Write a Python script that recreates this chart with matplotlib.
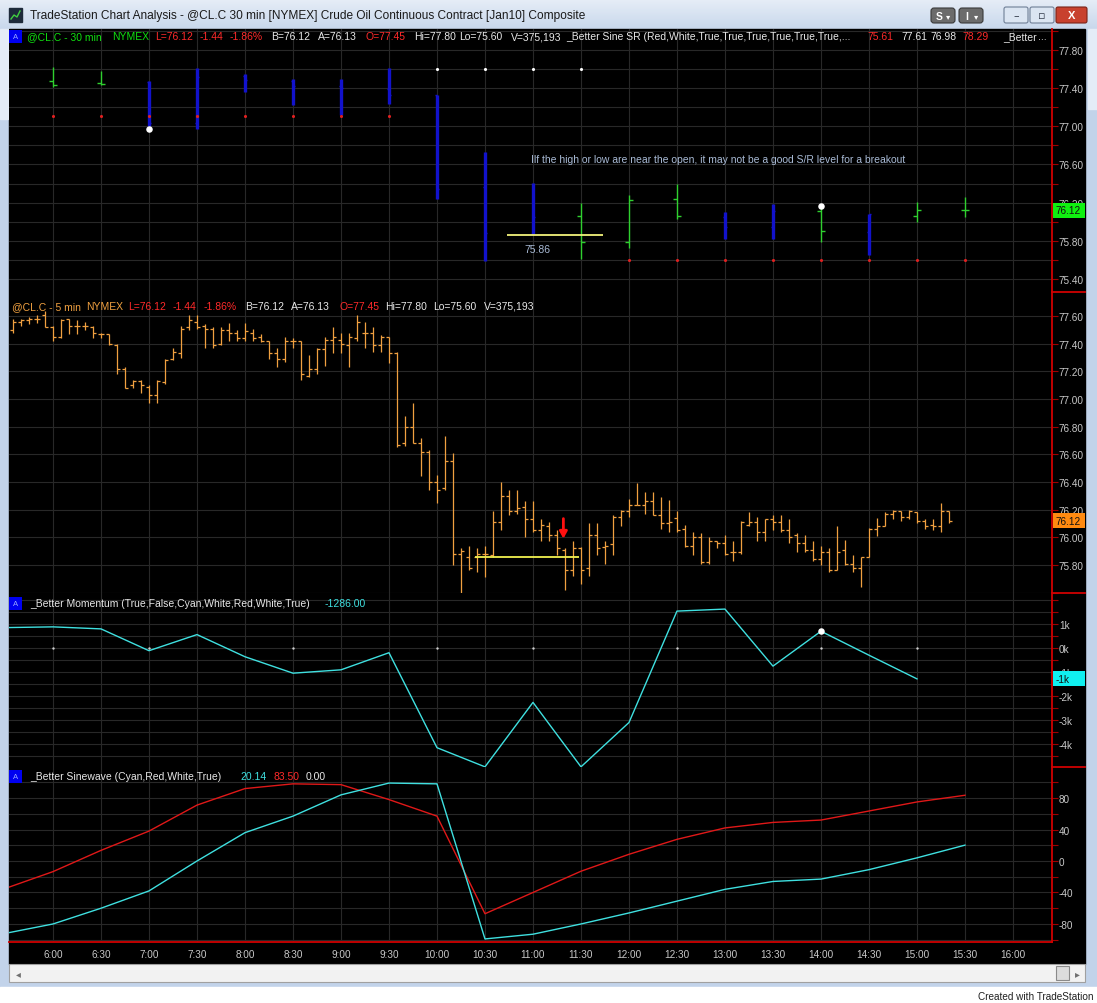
import matplotlib
matplotlib.use("Agg")
import matplotlib.pyplot as plt
from matplotlib import font_manager
from matplotlib.patches import Rectangle, FancyBboxPatch
from matplotlib.lines import Line2D
from matplotlib.colors import LinearSegmentedColormap
import numpy as np
import pandas as pd

W, H = 1097, 1004

# ---------------- data ----------------
# 30 min bars (top pane)
times_30 = ["6:00", "6:30", "7:00", "7:30", "8:00", "8:30", "9:00", "9:30", "10:00", "10:30",
            "11:00", "11:30", "12:00", "12:30", "13:00", "13:30", "14:00", "14:30", "15:00", "15:30"]
open_30 = [77.47, 77.45, 77.46, 77.03, 77.53, 77.48, 77.42, 77.39, 77.33, 76.36,
           75.87, 76.06, 75.79, 76.24, 76.05, 75.94, 76.11, 75.89, 76.06, 76.12]
high_30 = [77.62, 77.58, 77.47, 77.61, 77.55, 77.50, 77.50, 77.61, 77.33, 76.73,
           76.41, 76.20, 76.28, 76.40, 76.10, 76.19, 76.17, 76.08, 76.21, 76.26]
low_30 = [77.41, 77.43, 77.00, 76.97, 77.36, 77.22, 77.12, 77.23, 76.24, 75.59,
          75.87, 75.61, 75.72, 76.03, 75.82, 75.82, 75.79, 75.65, 76.00, 76.05]
close_30 = [77.43, 77.44, 77.03, 77.52, 77.49, 77.42, 77.40, 77.33, 76.34, 75.88,
            76.05, 75.79, 76.23, 76.06, 75.94, 76.11, 75.90, 76.08, 76.12, 76.12]
state_30 = ["up", "up", "dn", "dn", "dn", "dn", "dn", "dn", "dn", "dn",
            "dn", "up", "up", "up", "dn", "dn", "up", "dn", "up", "up"]

# Better Sine SR markers
sr_red_times = ["6:00", "6:30", "7:00", "7:30", "8:00", "8:30", "9:00", "9:30",
                "12:00", "12:30", "13:00", "13:30", "14:00", "14:30", "15:00", "15:30"]
sr_red_vals = [77.11, 77.11, 77.11, 77.11, 77.11, 77.11, 77.11, 77.11,
               75.60, 75.60, 75.60, 75.60, 75.60, 75.60, 75.60, 75.60]
sr_white_times = ["10:00", "10:30", "11:00", "11:30"]
sr_white_vals = [77.60, 77.60, 77.60, 77.60]
pivot_times = ["7:00", "14:00"]
pivot_vals = [76.97, 76.16]

# 5 min bars (second pane), first bar closes 5:35
start_5 = "2009-12-04 05:35"
open_5 = [77.50, 77.56, 77.57, 77.58, 77.61, 77.52, 77.45, 77.58, 77.53, 77.53, 77.52, 77.47,
          77.47, 77.39, 77.22, 77.10, 77.13, 77.09, 77.03, 77.12, 77.29, 77.33, 77.52, 77.56,
          77.53, 77.51, 77.40, 77.50, 77.48, 77.44, 77.48, 77.45, 77.42, 77.33, 77.29, 77.42,
          77.42, 77.17, 77.22, 77.36, 77.43, 77.43, 77.39, 77.44, 77.48, 77.48, 77.39, 77.45,
          77.33, 76.68, 76.80, 76.68, 76.62, 76.40, 76.36, 76.55, 75.88, 75.86, 75.86, 75.88,
          75.87, 76.11, 76.30, 76.19, 76.22, 76.13, 76.05, 76.08, 76.02, 75.91, 75.76, 75.92,
          75.78, 76.02, 75.93, 75.95, 76.15, 76.19, 76.23, 76.23, 76.26, 76.16, 76.10, 76.14,
          76.06, 75.94, 76.00, 75.82, 75.97, 75.96, 75.89, 75.89, 76.09, 76.11, 76.04, 76.13,
          76.11, 76.05, 76.02, 75.96, 75.91, 75.84, 75.89, 75.76, 75.91, 75.81, 75.78, 75.86,
          76.06, 76.08, 76.17, 76.19, 76.15, 76.18, 76.12, 76.09, 76.08, 76.19]
high_5 = [77.58, 77.58, 77.59, 77.61, 77.64, 77.53, 77.58, 77.58, 77.57, 77.56, 77.53, 77.48,
          77.47, 77.40, 77.23, 77.14, 77.14, 77.10, 77.14, 77.29, 77.37, 77.53, 77.61, 77.61,
          77.54, 77.52, 77.52, 77.55, 77.50, 77.55, 77.51, 77.47, 77.42, 77.37, 77.45, 77.44,
          77.42, 77.32, 77.37, 77.45, 77.52, 77.48, 77.48, 77.61, 77.56, 77.52, 77.46, 77.45,
          77.34, 76.88, 76.97, 76.72, 76.63, 76.45, 76.73, 76.61, 75.92, 75.94, 75.92, 75.94,
          76.19, 76.40, 76.34, 76.34, 76.26, 76.26, 76.13, 76.11, 76.05, 75.92, 75.97, 75.93,
          76.10, 76.10, 75.97, 76.16, 76.20, 76.28, 76.39, 76.33, 76.33, 76.29, 76.27, 76.19,
          76.09, 76.04, 76.03, 76.00, 75.97, 76.02, 75.97, 76.12, 76.18, 76.15, 76.13, 76.16,
          76.16, 76.13, 76.03, 76.02, 75.97, 75.94, 75.92, 76.08, 75.98, 75.87, 75.86, 76.07,
          76.14, 76.18, 76.20, 76.19, 76.20, 76.18, 76.13, 76.13, 76.25, 76.19]
low_5 = [77.48, 77.53, 77.54, 77.55, 77.52, 77.42, 77.44, 77.47, 77.47, 77.50, 77.44, 77.44,
         77.39, 77.18, 77.08, 77.08, 77.04, 76.97, 76.97, 77.11, 77.28, 77.30, 77.50, 77.51,
         77.37, 77.37, 77.39, 77.42, 77.42, 77.42, 77.42, 77.41, 77.29, 77.23, 77.27, 77.37,
         77.14, 77.16, 77.18, 77.24, 77.33, 77.33, 77.23, 77.42, 77.37, 77.34, 77.34, 77.26,
         76.65, 76.66, 76.68, 76.44, 76.34, 76.25, 76.34, 75.80, 75.59, 75.76, 75.75, 75.71,
         75.86, 76.05, 76.16, 76.17, 76.00, 76.04, 75.97, 75.97, 75.87, 75.62, 75.72, 75.66,
         75.72, 75.87, 75.81, 75.87, 76.08, 76.15, 76.23, 76.17, 76.16, 76.06, 76.04, 76.04,
         75.93, 75.87, 75.81, 75.81, 75.92, 75.87, 75.83, 75.88, 76.08, 75.97, 75.97, 76.05,
         76.04, 75.96, 75.89, 75.89, 75.83, 75.80, 75.75, 75.76, 75.80, 75.75, 75.64, 75.86,
         76.01, 76.08, 76.13, 76.12, 76.13, 76.10, 76.06, 76.05, 76.04, 76.10]
close_5 = [77.56, 77.57, 77.58, 77.58, 77.52, 77.45, 77.57, 77.53, 77.53, 77.53, 77.48, 77.47,
           77.40, 77.22, 77.08, 77.13, 77.10, 77.03, 77.13, 77.28, 77.34, 77.51, 77.57, 77.52,
           77.51, 77.39, 77.50, 77.48, 77.44, 77.49, 77.44, 77.42, 77.33, 77.29, 77.42, 77.42,
           77.18, 77.22, 77.36, 77.43, 77.45, 77.40, 77.45, 77.56, 77.48, 77.39, 77.45, 77.33,
           76.67, 76.80, 76.68, 76.62, 76.40, 76.34, 76.55, 75.88, 75.90, 75.78, 75.88, 75.88,
           76.11, 76.30, 76.19, 76.21, 76.13, 76.05, 76.09, 76.02, 75.92, 75.76, 75.92, 75.76,
           76.02, 75.92, 75.94, 76.15, 76.19, 76.23, 76.23, 76.26, 76.16, 76.10, 76.11, 76.05,
           75.94, 76.00, 75.82, 75.97, 75.96, 75.88, 75.89, 76.11, 76.11, 76.04, 76.13, 76.11,
           76.05, 76.00, 75.96, 75.91, 75.84, 75.89, 75.76, 75.89, 75.81, 75.78, 75.86, 76.06,
           76.08, 76.17, 76.19, 76.15, 76.19, 76.12, 76.08, 76.08, 76.19, 76.12]

# Better Momentum (30 min)
mom_times = ["5:30", "6:00", "6:30", "7:00", "7:30", "8:00", "8:30", "9:00", "9:30", "10:00",
             "10:30", "11:00", "11:30", "12:00", "12:30", "13:00", "13:30", "14:00", "14:30", "15:00"]
mom_vals = [850, 881, 797, -112, 559, -364, -1049, -909, -196, -4154,
            -4951, -2266, -4951, -3105, 1538, 1622, -755, 699, -300, -1286]
mom_zero_times = ["6:00", "7:00", "8:30", "10:00", "11:00", "12:30", "14:00", "15:00"]
mom_pivot_time = "14:00"
mom_pivot_val = 699

# Better Sinewave (30 min)
sine_times = ["5:30", "6:00", "6:30", "7:00", "7:30", "8:00", "8:30", "9:00", "9:30", "10:00", "10:30",
              "11:00", "11:30", "12:00", "12:30", "13:00", "13:30", "14:00", "14:30", "15:00", "15:30"]
sine_vals = [-92, -80, -60, -38, 0, 36, 57, 84, 99, 98, -99,
             -93, -80, -66, -51, -36, -26, -23, -11, 4, 20.14]
lead_vals = [-35, -13.5, 13.5, 38, 71, 92, 98, 97, 78, 57, -67,
             -40, -13, 8.5, 27.5, 42, 49, 52, 63.5, 75, 83.5]

# axis ticks
time_labels = ["6:00", "6:30", "7:00", "7:30", "8:00", "8:30", "9:00", "9:30", "10:00", "10:30", "11:00",
               "11:30", "12:00", "12:30", "13:00", "13:30", "14:00", "14:30", "15:00", "15:30", "16:00"]
p1_ticks = [75.4, 75.6, 75.8, 76.0, 76.2, 76.4, 76.6, 76.8, 77.0, 77.2, 77.4, 77.6, 77.8, 78.0]
p1_labels = ["75.40", "", "75.80", "", "76.20", "", "76.60", "", "77.00", "", "77.40", "", "77.80", ""]
p2_ticks = [75.6, 75.8, 76.0, 76.2, 76.4, 76.6, 76.8, 77.0, 77.2, 77.4, 77.6]
p2_labels = ["", "75.80", "76.00", "76.20", "76.40", "76.60", "76.80", "77.00", "77.20", "77.40", "77.60"]
p3_ticks = [-4500, -4000, -3500, -3000, -2500, -2000, -1500, -1000, -500, 0, 500, 1000, 1500, 2000]
p3_labels = ["", "-4k", "", "-3k", "", "-2k", "", "-1k", "", "0k", "", "1k", "", ""]
p4_ticks = [-100, -80, -60, -40, -20, 0, 20, 40, 60, 80, 100]
p4_labels = ["", "-80", "", "-40", "", "0", "", "40", "", "80", ""]


def tm(s):
    h, m = s.split(":")
    return int(h) * 60 + int(m)


avail = {f.name for f in font_manager.fontManager.ttflist}
if "Liberation Sans Narrow" in avail:
    UI, FS, HFS = "Liberation Sans Narrow", 8.2, 8.6
else:
    UI, FS, HFS = "Liberation Sans", 7.2, 7.5
plt.rcParams["font.family"] = [UI, "DejaVu Sans"]

GREEN = "#10e010"
RED = "#ff2a2a"
WHITE = "#e8e8e8"
ORANGE = "#f0a040"
CYAN = "#3fe0e0"
LBL = "#c8c8c8"
GRID = "#282828"
AXRED = "#d00000"

fig = plt.figure(figsize=(W / 100, H / 100), dpi=100, facecolor="#c2d3ea")


def px_axes(x0, y0, x1, y1, **kw):
    return fig.add_axes([x0 / W, 1 - y1 / H, (x1 - x0) / W, (y1 - y0) / H], **kw)


# ---------------- window chrome ----------------
bg = px_axes(0, 0, W, H, zorder=-5)
tb_cmap = LinearSegmentedColormap.from_list("tb", ["#e6edf7", "#c9d8ec"])
bg.imshow(np.linspace(0, 1, 30)[:, None], extent=(0, W, 30, 0), cmap=tb_cmap, aspect="auto")
bg.set_xlim(0, W)
bg.set_ylim(H, 0)
bg.axis("off")
bg.add_patch(Rectangle((9, 30), 1076, 935, color="black"))
bg.add_patch(Rectangle((0, 30), 8, 90, color="#e4ecf7"))
bg.add_patch(Rectangle((1088, 30), 9, 80, color="#e4ecf7"))
bg.add_patch(Rectangle((9, 965), 1076, 18, fc="#f2f2f2", ec="#a0a0a0", lw=0.8))
bg.add_patch(Rectangle((1056, 967), 13, 14, fc="#dcdcdc", ec="#8a8a8a", lw=0.8))
bg.text(16, 974, "◂", family="DejaVu Sans", fontsize=7, color="#707070", va="center")
bg.text(1075, 974, "▸", family="DejaVu Sans", fontsize=7, color="#707070", va="center")
bg.add_patch(Rectangle((0, 988), W, 16, color="white"))
bg.text(1094, 997, "Created with TradeStation", fontsize=7.2, color="#202020", ha="right", va="center")

# title bar
bg.add_patch(Rectangle((9, 9), 13, 14, color="#1d2a3a"))
bg.plot([11, 14, 17, 20], [20, 16, 18, 12], color="#40d040", lw=1)
bg.text(30, 16, "TradeStation Chart Analysis - @CL.C 30 min [NYMEX] Crude Oil Continuous Contract [Jan10] Composite",
        fontsize=8.6, color="#1a1a1a", va="center", family=["Liberation Sans", "DejaVu Sans"])
for x0, letter in [(931, "S"), (959, "I")]:
    bg.add_patch(FancyBboxPatch((x0, 9), 24, 15, boxstyle="round,pad=0,rounding_size=3",
                                fc="#6b6b6b", ec="#3a3a3a", lw=0.8))
    bg.text(x0 + 8, 16.5, letter, color="white", fontsize=7.5, ha="center", va="center", weight="bold")
    bg.text(x0 + 17, 17, "▾", color="white", fontsize=6, ha="center", va="center", family="DejaVu Sans")
for x0, sym in [(1004, "–"), (1030, "▫")]:
    bg.add_patch(FancyBboxPatch((x0, 8), 24, 16, boxstyle="round,pad=0,rounding_size=2",
                                fc="#dbe5f2", ec="#6f7f96", lw=0.8))
    bg.text(x0 + 12, 16, sym, color="#303848", fontsize=8, ha="center", va="center", family="DejaVu Sans")
bg.add_patch(FancyBboxPatch((1056, 8), 31, 16, boxstyle="round,pad=0,rounding_size=2",
                            fc="#c8412e", ec="#7a2318", lw=0.8))
bg.text(1071.5, 16, "X", color="white", fontsize=8, ha="center", va="center", weight="bold")

# ---------------- panes ----------------
ax1 = px_axes(9, 30, 1052, 293)
ax2 = px_axes(9, 293, 1052, 594)
ax3 = px_axes(9, 594, 1052, 768)
ax4 = px_axes(9, 768, 1052, 943)

XMIN, XMAX = 332.5, 984.4
time_pos = [tm(t) for t in time_labels]


def style(ax, ylim, ticks, labels):
    ax.set_facecolor("black")
    ax.set_xlim(XMIN, XMAX)
    ax.set_ylim(*ylim)
    for s in ["top", "left", "bottom"]:
        ax.spines[s].set_visible(False)
    ax.spines["right"].set_color(AXRED)
    ax.spines["right"].set_linewidth(1.3)
    ax.yaxis.tick_right()
    ax.set_yticks(ticks)
    ax.set_yticklabels(labels)
    ax.tick_params(axis="y", length=4, width=0.8, color="#a00000", labelcolor=LBL, labelsize=FS, pad=1)
    ax.set_xticks(time_pos)
    ax.set_xticklabels([])
    ax.tick_params(axis="x", length=0)
    ax.grid(True, color=GRID, lw=0.8)
    ax.set_axisbelow(True)


style(ax1, (75.263, 78.02), p1_ticks, p1_labels)
style(ax2, (75.597, 77.774), p2_ticks, p2_labels)
style(ax3, (-4958, 2292), p3_ticks, p3_labels)
style(ax4, (-102.9, 119.4), p4_ticks, p4_labels)
ax4.set_xticklabels(time_labels)
ax4.tick_params(axis="x", labelcolor=LBL, labelsize=FS, pad=5)
ax4.spines["bottom"].set_visible(True)
ax4.spines["bottom"].set_color(AXRED)
ax4.spines["bottom"].set_linewidth(1.3)


def draw_ohlc(ax, x, o, h, l, c, colors, lw, tick, tick_lw):
    x = np.asarray(x, dtype=float)
    ax.vlines(x, l, h, colors=colors, lw=lw)
    ax.hlines(o, x - tick, x, colors=colors, lw=tick_lw)
    ax.hlines(c, x, x + tick, colors=colors, lw=tick_lw)


# pane 1: 30 min bars with SR markers
x30 = [tm(t) for t in times_30]
for want, col, lw, tick in [("up", "#2fd02f", 1.0, 2.6), ("dn", "#1212cc", 2.4, 1.4)]:
    idx = [i for i, s in enumerate(state_30) if s == want]
    draw_ohlc(ax1, [x30[i] for i in idx], [open_30[i] for i in idx], [high_30[i] for i in idx],
              [low_30[i] for i in idx], [close_30[i] for i in idx], col, lw, tick, 1.0)
ax1.scatter([tm(t) for t in sr_red_times], sr_red_vals, s=5, color="#e02020", zorder=4, lw=0)
ax1.scatter([tm(t) for t in sr_white_times], sr_white_vals, s=5, color="white", zorder=4, lw=0)
ax1.scatter([tm(t) for t in pivot_times], pivot_vals, s=22, color="white", zorder=5, lw=0)
ax1.hlines(75.86, tm("10:44"), tm("11:44"), color="#f2f27a", lw=1.3, zorder=4)
ax1.text(tm("11:03"), 75.71, "75.86", color="#a9bbd6", fontsize=HFS, ha="center", va="center")
ax1.text(tm("10:59"), 76.66, "Ilf the high or low are near the open, it may not be a good S/R level for a breakout",
         color="#a9bbd6", fontsize=HFS, va="center")

# pane 2: 5 min bars
t5 = pd.date_range(start_5, periods=len(open_5), freq="5min")
x5 = t5.hour * 60 + t5.minute
draw_ohlc(ax2, x5, open_5, high_5, low_5, close_5, ORANGE, 0.9, 1.9, 0.9)
ax2.hlines(75.86, tm("10:24"), tm("11:29"), color="#f2f250", lw=1.3, zorder=4)
ax2.annotate("", xy=(tm("11:19"), 75.99), xytext=(tm("11:19"), 76.135),
             arrowprops=dict(arrowstyle="-|>,head_width=0.22,head_length=0.4", color="#ff1010",
                             lw=2.0, shrinkA=0, shrinkB=0),
             zorder=5)

# pane 3: momentum
ax3.plot([tm(t) for t in mom_times], mom_vals, color=CYAN, lw=1.0)
ax3.scatter([tm(t) for t in mom_zero_times], [0] * len(mom_zero_times), s=3, color="#d0d0d0", lw=0, zorder=3)
ax3.scatter([tm(mom_pivot_time)], [mom_pivot_val], s=22, color="white", lw=0, zorder=4)

# pane 4: sinewave
xs = [tm(t) for t in sine_times]
ax4.plot(xs, lead_vals, color="#e01818", lw=1.0)
ax4.plot(xs, sine_vals, color=CYAN, lw=1.0)


# ---------------- overlays: red separators, value boxes, headers ----------------
def fig_line(x0, y0, x1, y1, color=AXRED, lw=1.3):
    fig.add_artist(Line2D([x0 / W, x1 / W], [1 - y0 / H, 1 - y1 / H], color=color, lw=lw,
                          transform=fig.transFigure, zorder=6))


for yb in [293, 594, 768]:
    fig_line(1052, yb, 1085, yb)


def value_box(ax, val, text, fc):
    yd = ax.transData.transform((XMIN, val))[1]
    fig.add_artist(Rectangle((1053 / W, (yd - 7.5) / H), 32 / W, 15 / H, fc=fc, ec="none",
                             transform=fig.transFigure, zorder=7))
    fig.text(1056 / W, yd / H, text, color="#101010", fontsize=FS, va="center", zorder=8)


value_box(ax1, 76.12, "76.12", "#10f010")
value_box(ax2, 76.12, "76.12", "#ff8a10")
value_box(ax3, -1286, "-1k", "#10f0f0")


def blue_box(y0):
    fig.add_artist(Rectangle((9 / W, 1 - (y0 + 13) / H), 13 / W, 13 / H, fc="#0000f0", ec="none",
                             transform=fig.transFigure, zorder=7))
    fig.text(15.5 / W, 1 - (y0 + 6.5) / H, "A", color="#9aa8ff", fontsize=5.5, ha="center", va="center", zorder=8)


def header(y, parts):
    for x, s, c in parts:
        fig.text(x / W, 1 - y / H, s, color=c, fontsize=HFS, va="center", zorder=8)


blue_box(31)
header(37, [(27, "@CL.C - 30 min", GREEN), (112, "NYMEX", GREEN), (155, "L=76.12", RED), (200, "-1.44", RED),
            (230, "-1.86%", RED), (271, "B=76.12", WHITE), (318, "A=76.13", WHITE), (365, "O=77.45", RED),
            (414, "Hi=77.80", WHITE), (459, "Lo=75.60", WHITE), (511, "V=375,193", WHITE),
            (566, "_Better Sine SR (Red,White,True,True,True,True,True,True,...", WHITE),
            (867, "75.61", RED), (901, "77.61", WHITE), (930, "76.98", WHITE), (962, "78.29", RED),
            (1003, "_Better", WHITE), (1038, "...", WHITE)])
header(307, [(12, "@CL.C - 5 min", ORANGE), (86, "NYMEX", ORANGE), (128, "L=76.12", RED), (173, "-1.44", RED),
             (204, "-1.86%", RED), (245, "B=76.12", WHITE), (291, "A=76.13", WHITE), (339, "O=77.45", RED),
             (385, "Hi=77.80", WHITE), (433, "Lo=75.60", WHITE), (484, "V=375,193", WHITE)])
blue_box(598)
header(604, [(30, "_Better Momentum (True,False,Cyan,White,Red,White,True)", WHITE), (325, "-1286.00", CYAN)])
blue_box(771)
header(777, [(30, "_Better Sinewave (Cyan,Red,White,True)", WHITE), (240, "20.14", CYAN),
             (273, "83.50", RED), (306, "0.00", WHITE)])

fig.savefig("out.png", dpi=100, facecolor=fig.get_facecolor())
